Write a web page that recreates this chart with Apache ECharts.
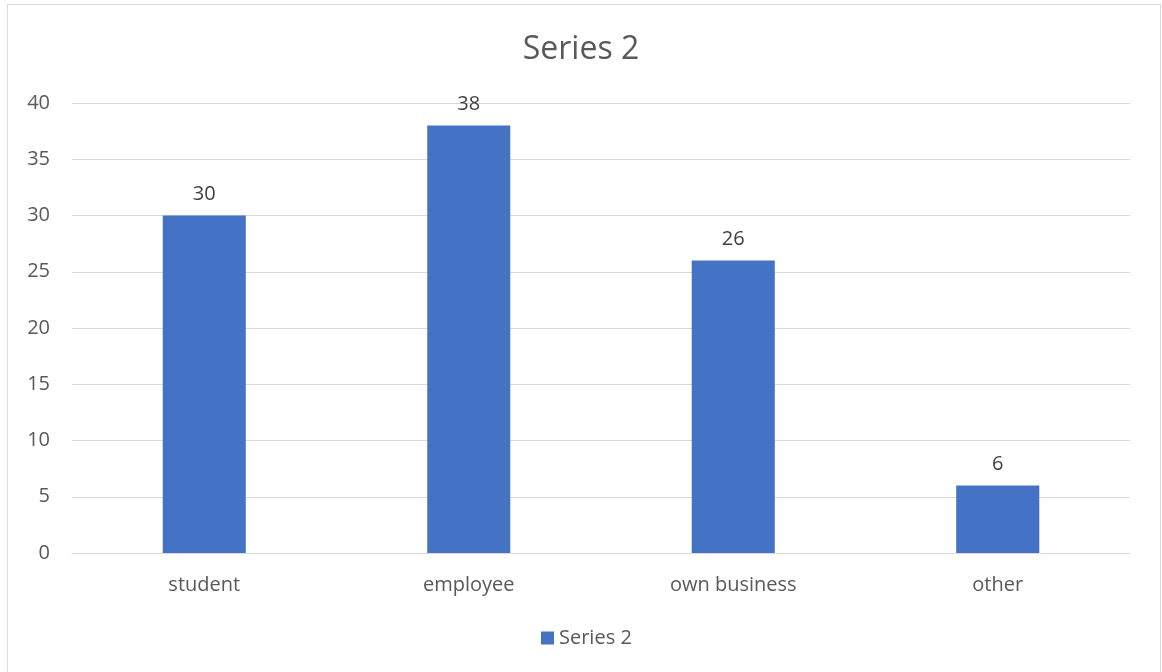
<!DOCTYPE html>
<html>
<head>
<meta charset="utf-8">
<script src="https://cdn.jsdelivr.net/npm/echarts@6/dist/echarts.min.js"></script>
<style>
  html, body { margin: 0; padding: 0; background: #fff; }
  #chart { width: 1162px; height: 672px; }
  #frame { position: absolute; left: 7px; top: 4px; width: 1152px; height: 680px; border: 1px solid #d9d9d9; pointer-events: none; }
</style>
</head>
<body>
<div id="chart"></div>
<div id="frame"></div>
<script>
// Occupation breakdown
const categories = ['student', 'employee', 'own business', 'other'];
const seriesName = 'Series 2';
const values = [30, 38, 26, 6];
const yTicks = { min: 0, max: 40, interval: 5 };

const textColor = '#595959';
const font = '"Open Sans", "Noto Sans", sans-serif';

const chart = echarts.init(document.getElementById('chart'));
chart.setOption({
  animation: false,
  title: {
    text: seriesName,
    left: 'center',
    top: 29,
    textStyle: { color: textColor, fontSize: 32, fontWeight: 'normal', fontFamily: font }
  },
  legend: {
    bottom: 19,
    left: 536,
    icon: 'rect',
    itemWidth: 13,
    itemHeight: 13,
    itemGap: 6,
    textStyle: { color: textColor, fontSize: 20, fontFamily: font }
  },
  grid: { left: 72, right: 32, top: 103, bottom: 119 },
  xAxis: {
    type: 'category',
    data: categories,
    axisLine: { lineStyle: { color: '#d9d9d9', width: 1 } },
    axisTick: { show: false },
    axisLabel: { color: textColor, fontSize: 20, fontFamily: font, margin: 22 }
  },
  yAxis: {
    type: 'value',
    min: yTicks.min,
    max: yTicks.max,
    interval: yTicks.interval,
    axisLine: { show: false },
    axisTick: { show: false },
    splitLine: { lineStyle: { color: '#d9d9d9', width: 1 } },
    axisLabel: { color: textColor, fontSize: 20, fontFamily: font, margin: 22 }
  },
  series: [{
    name: seriesName,
    type: 'bar',
    data: values,
    barWidth: '31.4%',
    itemStyle: { color: '#4472c4' },
    label: {
      show: true,
      position: 'top',
      distance: 11,
      color: '#404040',
      fontSize: 20,
      fontFamily: font
    }
  }]
});
</script>
</body>
</html>
